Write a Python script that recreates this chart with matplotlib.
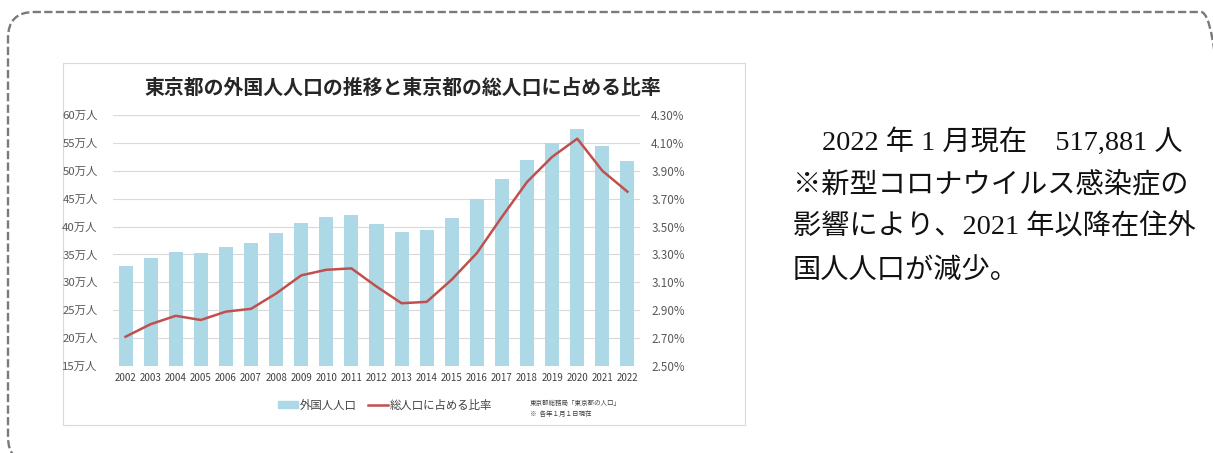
import matplotlib
matplotlib.use('Agg')
import matplotlib.pyplot as plt
from matplotlib.patches import Rectangle, FancyBboxPatch, Patch
from matplotlib.lines import Line2D
from matplotlib.transforms import IdentityTransform

plt.rcParams['font.family'] = ['Noto Sans CJK JP', 'DejaVu Sans']

# データ
years = ['2002', '2003', '2004', '2005', '2006', '2007', '2008', '2009', '2010', '2011', '2012',
         '2013', '2014', '2015', '2016', '2017', '2018', '2019', '2020', '2021', '2022']
foreign_pop = [33.0, 34.3, 35.4, 35.3, 36.3, 37.0, 38.9, 40.6, 41.7, 42.0, 40.4,
               39.0, 39.3, 41.6, 44.9, 48.5, 51.9, 54.9, 57.5, 54.4, 51.8]  # 万人
ratio = [2.71, 2.80, 2.86, 2.83, 2.89, 2.91, 3.02, 3.15, 3.19, 3.20, 3.07,
         2.95, 2.96, 3.12, 3.31, 3.57, 3.82, 4.00, 4.13, 3.90, 3.75]  # %
left_ticks = [15, 20, 25, 30, 35, 40, 45, 50, 55, 60]
right_ticks = [2.50, 2.70, 2.90, 3.10, 3.30, 3.50, 3.70, 3.90, 4.10, 4.30]

title = '東京都の外国人人口の推移と東京都の総人口に占める比率'
note_lines = ['2022 年 1 月現在　517,881 人',
              '※新型コロナウイルス感染症の',
              '影響により、2021 年以降在住外',
              '国人人口が減少。']

W, H = 1213, 453
fig = plt.figure(figsize=(W / 100, H / 100), dpi=100)

# 点線の枠（右端と下端は画面外）
frame = FancyBboxPatch((8, -10), 1219, 451, boxstyle='round,pad=0,rounding_size=26',
                       transform=IdentityTransform(), fc='none', ec='#7a7a7a',
                       lw=1.7, ls=(0, (3.5, 1.4)), clip_on=False, zorder=0)
fig.add_artist(frame)

# グラフの外枠
panel = Rectangle((63 / W, 1 - 425 / H), 682 / W, 362 / H, transform=fig.transFigure,
                  fc='white', ec='#d9d9d9', lw=0.8, zorder=0.5)
fig.add_artist(panel)

ax = fig.add_axes([113 / W, 1 - 366 / H, 527 / W, 251 / H], zorder=1)
ax.patch.set_alpha(0)
x = list(range(len(years)))
ax.bar(x, foreign_pop, width=0.56, color='#add8e6', zorder=2)
ax.set_ylim(15, 60)
ax.set_xlim(-0.5, len(years) - 0.5)
ax.set_yticks(left_ticks)
ax.set_yticklabels([f'{v}万人' for v in left_ticks])
ax.set_xticks(x)
ax.set_xticklabels(years)
ax.grid(axis='y', color='#d9d9d9', lw=0.8, zorder=0)
ax.set_axisbelow(True)
for s in ax.spines.values():
    s.set_visible(False)
ax.tick_params(axis='y', length=0, pad=11, labelsize=8.2, labelcolor='#595959')
ax.tick_params(axis='x', length=0, pad=5, labelsize=7.0, labelcolor='#404040')

ax2 = ax.twinx()
ax2.plot(x, ratio, color='#c0504d', lw=1.8, zorder=3)
ax2.set_ylim(2.5, 4.3)
ax2.set_yticks(right_ticks)
ax2.set_yticklabels([f'{v:.2f}%' for v in right_ticks])
for s in ax2.spines.values():
    s.set_visible(False)
ax2.tick_params(axis='y', length=0, pad=8, labelsize=8.4, labelcolor='#595959')

fig.text(403 / W, 1 - 87 / H, title, ha='center', va='center', fontsize=14.3,
         fontweight='bold', color='#262626')

handles = [Patch(color='#add8e6'), Line2D([], [], color='#c0504d', lw=1.8)]
fig.legend(handles, ['外国人人口', '総人口に占める比率'], loc='center',
           bbox_to_anchor=(385 / W, 1 - 405 / H), ncol=2, frameon=False,
           fontsize=8.2, handlelength=1.75, handleheight=0.6, columnspacing=1.0,
           handletextpad=0.15, labelcolor='#404040')

fig.text(530 / W, 1 - 403 / H, '東京都総務局「東京都の人口」', fontsize=4.7,
         color='#404040', va='center')
fig.text(530 / W, 1 - 414 / H, '※  各年１月１日現在', fontsize=4.7,
         color='#404040', va='center')

# 右側の説明文
tfam = ['Liberation Serif', 'Noto Sans CJK JP']
ys = [142, 185, 228, 271]
xs = [822, 793, 793, 793]
for t, yy, xx in zip(note_lines, ys, xs):
    fig.text(xx / W, 1 - yy / H, t, family=tfam, fontsize=20.3, color='#111111',
             va='center', ha='left')

fig.savefig('out.png', dpi=100)
